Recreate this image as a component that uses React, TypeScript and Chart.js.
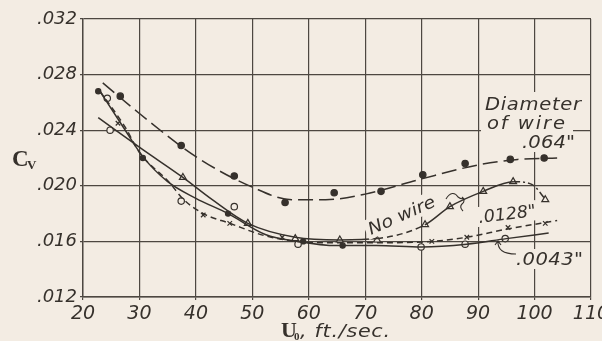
import React, { useEffect, useRef } from "react";
import { Chart, registerables } from "chart.js";
Chart.register(...registerables);

const BG = "#f3ece3";
const INK = "#36312c";
const GRID = "#4d4741";

const xTicks = [20, 30, 40, 50, 60, 70, 80, 90, 100, 110];
const yTicks = [0.012, 0.016, 0.02, 0.024, 0.028, 0.032];

// .064" wire — long dashes, filled dots
const w064CurveV = [23.5, 30, 40, 50, 57, 63, 70, 80, 90, 97, 104];
const w064CurveC = [0.0274, 0.0252, 0.0221, 0.0199, 0.019, 0.019, 0.0194, 0.0205, 0.0215, 0.0219, 0.022];
const w064PtsV = [26.6, 37.4, 46.8, 55.8, 64.5, 72.8, 80.2, 87.7, 95.7, 101.7];
const w064PtsC = [0.02645, 0.0229, 0.0207, 0.0188, 0.0195, 0.0196, 0.0208, 0.0216, 0.0219, 0.022];

// No wire — solid, triangles
const noWireCurveV = [22.7, 30.6, 37.7, 42.9, 49.2, 57.6, 65.5, 72.1, 80.6, 85, 90.9, 96.2, 99.5, 102];
const noWireCurveC = [0.0249, 0.0226, 0.0206, 0.019, 0.0173, 0.0163, 0.0161, 0.0162, 0.0172, 0.0185, 0.0196, 0.0203, 0.0201, 0.019];
const noWirePtsV = [37.7, 49.2, 57.6, 65.5, 72.1, 80.6, 85, 90.9, 96.2, 101.9];
const noWirePtsC = [0.0206, 0.0173, 0.0162, 0.0161, 0.0161, 0.0172, 0.0185, 0.0196, 0.0203, 0.019];

// .0128" wire — short dashes, crosses
const w0128CurveV = [23, 27.5, 30, 35.4, 37.6, 41.3, 46, 52.3, 58, 65, 72, 81.8, 88, 95.3, 104];
const w0128CurveC = [0.0268, 0.0242, 0.0224, 0.0202, 0.0191, 0.018, 0.0173, 0.0164, 0.016, 0.0159, 0.0159, 0.016, 0.0163, 0.0169, 0.0175];
const w0128PtsV = [26.2, 41.3, 46, 55.3, 81.8, 88, 95.3, 101.9];
const w0128PtsC = [0.0245, 0.0179, 0.0173, 0.0163, 0.016, 0.0163, 0.017, 0.0173];

// .0043" wire — solid, open circles
const w0043CurveV = [22.7, 27, 30.6, 35, 40, 45.7, 52.3, 58, 65, 72, 80, 88, 95, 102.5];
const w0043CurveC = [0.027, 0.0243, 0.0221, 0.0203, 0.0191, 0.018, 0.0165, 0.016, 0.0157, 0.0157, 0.0156, 0.0158, 0.0162, 0.0166];
const w0043PtsV = [24.3, 24.8, 37.4, 46.8, 58.1, 79.9, 87.7, 94.8];
const w0043PtsC = [0.0263, 0.024, 0.0189, 0.0185, 0.0158, 0.0156, 0.0158, 0.0162];
const w0043DotsV = [22.7, 30.6, 45.7, 59, 66];
const w0043DotsC = [0.0268, 0.022, 0.018, 0.016, 0.0157];

const zip = (a: number[], b: number[]) => a.map((x, i) => ({ x, y: b[i] }));

function drawText(
  ctx: CanvasRenderingContext2D,
  text: string,
  x: number,
  y: number,
  font: string,
  target?: number,
  angle = 0,
  bg = false
) {
  ctx.save();
  ctx.font = font;
  (ctx as any).letterSpacing = "0px";
  const w = ctx.measureText(text).width;
  let sx = 1;
  let sp = 0;
  if (target) {
    sx = Math.min(1.15, target / w);
    const rest = target - w * sx;
    if (text.length > 1) sp = rest / sx / (text.length - 1);
  }
  (ctx as any).letterSpacing = sp + "px";
  const tw = ctx.measureText(text).width;
  ctx.translate(x, y);
  ctx.rotate(angle);
  ctx.scale(sx, 1);
  if (bg) {
    ctx.fillStyle = BG;
    ctx.fillRect(-3, -16, tw + 4, 20);
  }
  ctx.fillStyle = INK;
  ctx.textBaseline = "alphabetic";
  ctx.textAlign = "left";
  ctx.fillText(text, 0, 0);
  ctx.restore();
}

const annotPlugin = {
  id: "annot",
  beforeDraw(chart: any) {
    const ctx = chart.ctx;
    ctx.save();
    ctx.fillStyle = BG;
    ctx.fillRect(0, 0, chart.width, chart.height);
    ctx.restore();
  },
  afterDatasetsDraw(chart: any) {
    const ctx: CanvasRenderingContext2D = chart.ctx;
    const f = "italic 17px 'DejaVu Sans'";
    // Diameter of wire .064"
    ctx.save();
    ctx.fillStyle = BG;
    ctx.fillRect(481, 92, 92, 44);
    ctx.fillRect(517, 132, 62, 20);
    ctx.restore();
    drawText(ctx, "Diameter", 485, 110, f, 96);
    drawText(ctx, "of wire", 487, 129, f, 78);
    drawText(ctx, '.064"', 522, 148, f, 53);
    // No wire
    drawText(ctx, "No wire", 371, 235, f, 72, -0.42, true);
    ctx.save();
    ctx.strokeStyle = INK;
    ctx.lineWidth = 1.1;
    ctx.beginPath();
    ctx.moveTo(446, 199);
    ctx.bezierCurveTo(450, 192, 455, 192, 458, 197);
    ctx.quadraticCurveTo(462, 200, 464, 198);
    ctx.moveTo(462, 197);
    ctx.quadraticCurveTo(466, 201, 462, 204);
    ctx.quadraticCurveTo(459, 207, 463, 211);
    ctx.stroke();
    ctx.restore();
    // .0128"
    drawText(ctx, '.0128"', 479, 223, f, 58, -0.12, true);
    // .0043"
    drawText(ctx, '.0043"', 516, 265, f, 67, 0, true);
    ctx.save();
    ctx.strokeStyle = INK;
    ctx.lineWidth = 1.1;
    ctx.beginPath();
    ctx.moveTo(498, 241);
    ctx.quadraticCurveTo(497, 254, 516, 254);
    ctx.moveTo(495, 245);
    ctx.lineTo(498, 241);
    ctx.lineTo(501, 245);
    ctx.stroke();
    ctx.restore();

    // Axis titles
    ctx.save();
    ctx.fillStyle = INK;
    ctx.textBaseline = "alphabetic";
    ctx.font = "bold 23px 'Liberation Serif'";
    ctx.fillText("C", 12, 166);
    ctx.font = "bold 13px 'Liberation Serif'";
    ctx.fillText("V", 27, 169);
    ctx.font = "bold 22px 'Liberation Serif'";
    ctx.fillText("U", 281, 337);
    ctx.font = "bold 11px 'Liberation Serif'";
    ctx.fillText("0", 294, 340);
    ctx.restore();
    drawText(ctx, ", ft./sec.", 300, 337, "italic 18px 'DejaVu Sans'", 90);
  },
};

export default function App() {
  const ref = useRef<HTMLCanvasElement>(null);
  useEffect(() => {
    document.body.style.margin = "0";
    document.body.style.background = BG;
    const line = (v: number[], c: number[], dash: number[], extra: any = {}) => ({
      type: "line",
      data: zip(v, c),
      borderColor: INK,
      borderWidth: 1.5,
      borderDash: dash,
      pointRadius: 0,
      fill: false,
      cubicInterpolationMode: "monotone",
      ...extra,
    });
    const pts = (v: number[], c: number[], style: string, r: number, filled: boolean) => ({
      type: "line",
      data: zip(v, c),
      showLine: false,
      pointStyle: style,
      pointRadius: r,
      pointBorderWidth: 1.2,
      pointBorderColor: INK,
      pointBackgroundColor: filled ? INK : BG,
    });
    const chart = new Chart(ref.current!, {
      type: "line",
      data: {
        datasets: [
          line(w064CurveV, w064CurveC, [15, 6]),
          line(noWireCurveV, noWireCurveC, [], {
            segment: {
              borderDash: (s: any) =>
                s.p0.parsed.x >= 71 && s.p0.parsed.x < 80 ? [6, 4] : s.p0.parsed.x >= 96 ? [7, 3, 2, 3] : undefined,
            },
          }),
          line(w0128CurveV, w0128CurveC, [6, 4]),
          line(w0043CurveV, w0043CurveC, []),
          pts(w064PtsV, w064PtsC, "circle", 3.2, true),
          pts(noWirePtsV, noWirePtsC, "triangle", 4, false),
          pts(w0128PtsV, w0128PtsC, "crossRot", 3.2, false),
          pts(w0043PtsV, w0043PtsC, "circle", 3.2, false),
          pts(w0043DotsV, w0043DotsC, "circle", 2.6, true),
        ] as any,
      },
      options: {
        responsive: false,
        animation: false,
        events: [],
        layout: { padding: { top: 19, right: 11, left: 0, bottom: 0 } },
        plugins: { legend: { display: false }, tooltip: { enabled: false } },
        scales: {
          x: {
            type: "linear",
            min: 20,
            max: 110,
            afterBuildTicks: (s: any) => {
              s.ticks = xTicks.map((value) => ({ value }));
            },
            afterFit: (s: any) => {
              s.height = 44;
              s.paddingLeft = 0;
              s.paddingRight = 0;
            },
            grid: { color: GRID, lineWidth: 1.2, tickLength: 3 },
            border: { color: GRID, width: 1.4 },
            ticks: {
              color: INK,
              padding: 3,
              maxRotation: 0,
              autoSkip: false,
              font: { family: "'DejaVu Sans'", style: "italic", size: 19 },
              callback: (v: any) => String(v),
            },
          },
          y: {
            type: "linear",
            min: 0.012,
            max: 0.032,
            afterBuildTicks: (s: any) => {
              s.ticks = yTicks.map((value) => ({ value }));
            },
            afterFit: (s: any) => {
              s.width = 83;
              s.paddingTop = 0;
              s.paddingBottom = 0;
            },
            grid: { color: GRID, lineWidth: 1.2, tickLength: 3 },
            border: { color: GRID, width: 1.4 },
            ticks: {
              color: INK,
              padding: 3,
              autoSkip: false,
              font: { family: "'DejaVu Sans'", style: "italic", size: 18 },
              callback: (v: any) => Number(v).toFixed(3).replace(/^0/, ""),
            },
          },
        },
      },
      plugins: [annotPlugin],
    } as any);
    return () => chart.destroy();
  }, []);
  return (
    <div style={{ position: "fixed", left: 0, top: 0, width: 602, height: 341 }}>
      <canvas ref={ref} width={602} height={341} style={{ width: 602, height: 341 }} />
    </div>
  );
}
